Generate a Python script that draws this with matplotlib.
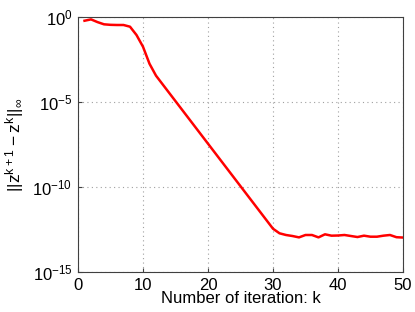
import numpy as np
import matplotlib
matplotlib.use("Agg")
import matplotlib.pyplot as plt
from matplotlib.ticker import FixedLocator, LogFormatterMathtext, NullLocator

plt.rcParams['font.family'] = ['Liberation Sans', 'DejaVu Sans']
plt.rcParams['mathtext.default'] = 'regular'

# iteration index and log10 of the residual
iters = list(range(1, 51))
log_resid = [-0.22, -0.14, -0.30, -0.43, -0.46, -0.47, -0.47, -0.57, -1.06, -1.75,
             -2.75, -3.45, -3.95, -4.45, -4.95, -5.45, -5.95, -6.45, -6.95, -7.45,
             -7.95, -8.45, -8.95, -9.45, -9.95, -10.45, -10.95, -11.45, -11.95, -12.45,
             -12.72, -12.82, -12.88, -12.96, -12.82, -12.82, -12.96, -12.78, -12.86, -12.85,
             -12.82, -12.88, -12.94, -12.86, -12.92, -12.92, -12.86, -12.82, -12.95, -12.97]
resid = np.power(10.0, log_resid)

fig = plt.figure(figsize=(4.15, 3.12), dpi=100)
ax = fig.add_axes([0.188, 0.128, 0.783, 0.8175])

ax.semilogy(iters, resid, color="red", linewidth=1.8)

ax.set_xlim(0, 50)
ax.set_ylim(1e-15, 1e0)
ax.set_xticks([0, 10, 20, 30, 40, 50])
ax.yaxis.set_major_locator(FixedLocator([1e-15, 1e-10, 1e-5, 1e0]))
ax.yaxis.set_major_formatter(LogFormatterMathtext())
ax.yaxis.set_minor_locator(NullLocator())

ax.grid(True, linestyle=(0, (1, 3)), color="#a0a0a0", linewidth=0.8)
ax.tick_params(direction="in", length=3, labelsize=12, color="#404040", pad=4)
for s in ax.spines.values():
    s.set_color("#404040")
    s.set_linewidth(0.8)

ax.set_xlabel("Number of iteration: k", fontsize=12, labelpad=-1)
ax.set_ylabel(r"$||z^{k+1}-z^{k}||_{\infty}$", fontsize=12.5, labelpad=5)

fig.savefig("out.png", dpi=100)
